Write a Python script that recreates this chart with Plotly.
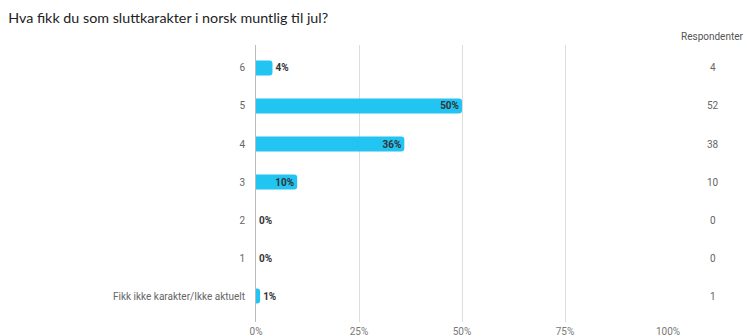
import plotly.graph_objects as go

# Survey answers, listed top to bottom as shown
categories = ["6", "5", "4", "3", "2", "1", "Fikk ikke karakter/Ikke aktuelt"]
percent = [4, 50, 36, 10, 0, 0, 1]
respondents = [4, 52, 38, 10, 0, 0, 1]
x_ticks = [0, 25, 50, 75, 100]
x_tick_labels = ["0%", "25%", "50%", "75%", "100%"]

# Plotly draws the first category at the bottom, so reverse for top-down order
cats = categories[::-1]
vals = percent[::-1]
counts = respondents[::-1]

labels = [f"{v}%" for v in vals]
positions = ["inside" if v >= 10 else "outside" for v in vals]

fig = go.Figure(
    go.Bar(
        x=vals,
        y=cats,
        orientation="h",
        width=0.4,
        marker=dict(color="#22C4F2", cornerradius=3, line=dict(width=0)),
        text=labels,
        textposition=positions,
        insidetextanchor="end",
        textangle=0,
        constraintext="none",
        textfont=dict(family="Roboto", size=10, color="#333333", weight="bold"),
        cliponaxis=False,
        hoverinfo="skip",
    )
)

# Respondent counts in a column to the right of the plot
annotations = [
    dict(x=1.109, y=c, xref="paper", yref="y", text=str(n), showarrow=False,
         font=dict(family="Roboto", size=10, color="#666666"), xanchor="center")
    for c, n in zip(cats, counts)
]
annotations.append(
    dict(x=1.109, y=1.005, xref="paper", yref="paper", text="Respondenter",
         showarrow=False, font=dict(family="Roboto", size=10, color="#555555"),
         xanchor="center", yanchor="bottom")
)

fig.update_layout(
    width=747,
    height=336,
    margin=dict(l=256, r=79, t=45, b=14),
    paper_bgcolor="white",
    plot_bgcolor="white",
    showlegend=False,
    uniformtext=dict(minsize=10, mode="show"),
    title=dict(
        text="Hva fikk du som sluttkarakter i norsk muntlig til jul?",
        x=0.011, xanchor="left", y=0.945, yanchor="middle",
        font=dict(family="Lato", size=14.3, color="#222222"),
    ),
    xaxis=dict(
        range=[0, 100],
        tickvals=x_ticks,
        ticktext=x_tick_labels,
        showgrid=True,
        gridcolor="#DDDDDD",
        gridwidth=1,
        zeroline=False,
        showline=False,
        tickfont=dict(family="Roboto", size=10, color="#777777"),
        ticks="",
        ticklabelstandoff=2,
        automargin=False,
        fixedrange=True,
    ),
    yaxis=dict(
        type="category",
        categoryorder="array",
        categoryarray=cats,
        range=[-0.684, 6.605],
        showgrid=False,
        zeroline=False,
        showline=True,
        linecolor="#BBBBBB",
        linewidth=1,
        ticks="",
        ticklabelstandoff=8,
        tickfont=dict(family="Roboto", size=10, color="#666666"),
        automargin=False,
        fixedrange=True,
    ),
    annotations=annotations,
)

fig.write_html("out.html")
